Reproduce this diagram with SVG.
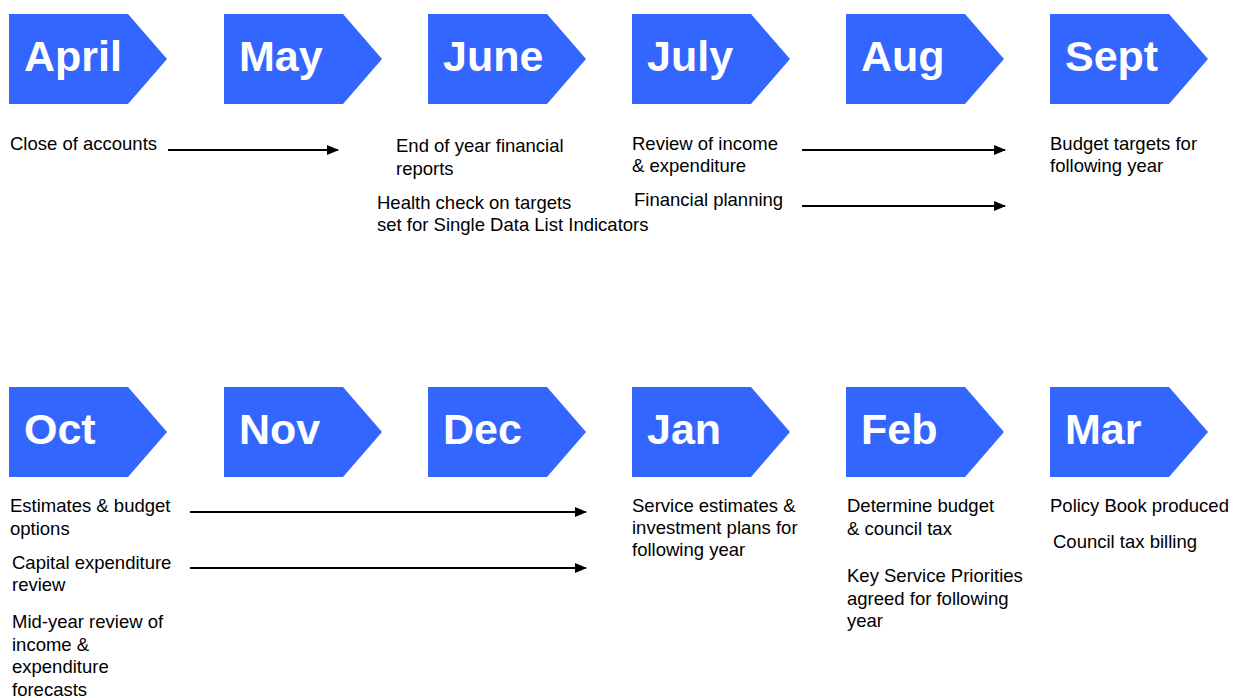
<svg xmlns="http://www.w3.org/2000/svg" width="1244" height="698" viewBox="0 0 1244 698">
  <style>
    .chev { fill: #3366FF; }
    .month { font-family: "Liberation Sans", Arial, sans-serif; font-weight: bold; font-size: 43px; fill: #FFFFFF; }
    .txt { font-family: "Liberation Sans", Arial, sans-serif; font-size: 18.5px; fill: #000000; }
    .arrow { stroke: #000000; stroke-width: 2; fill: none; marker-end: url(#head); }
  </style>
  <defs>
    <marker id="head" markerWidth="6" markerHeight="5" refX="5.5" refY="2.5" orient="auto" markerUnits="strokeWidth">
      <path d="M0,0 L6,2.5 L0,5 Z" fill="#000000"/>
    </marker>
    <path id="chevron" d="M0,0 L119,0 L158,45 L119,90 L0,90 Z"/>
  </defs>
  <rect width="1244" height="698" fill="#FFFFFF"/>

  <!-- First half of the year -->
  <g id="april"><use href="#chevron" class="chev" x="9" y="14"/><text class="month" x="24" y="71">April</text></g>
  <g id="may"><use href="#chevron" class="chev" x="224" y="14"/><text class="month" x="239" y="71">May</text></g>
  <g id="june"><use href="#chevron" class="chev" x="428" y="14"/><text class="month" x="443" y="71">June</text></g>
  <g id="july"><use href="#chevron" class="chev" x="632" y="14"/><text class="month" x="647" y="71">July</text></g>
  <g id="aug"><use href="#chevron" class="chev" x="846" y="14"/><text class="month" x="861" y="71">Aug</text></g>
  <g id="sept"><use href="#chevron" class="chev" x="1050" y="14"/><text class="month" x="1065" y="71">Sept</text></g>

  <!-- Second half of the year -->
  <g id="oct"><use href="#chevron" class="chev" x="9" y="387"/><text class="month" x="24" y="444">Oct</text></g>
  <g id="nov"><use href="#chevron" class="chev" x="224" y="387"/><text class="month" x="239" y="444">Nov</text></g>
  <g id="dec"><use href="#chevron" class="chev" x="428" y="387"/><text class="month" x="443" y="444">Dec</text></g>
  <g id="jan"><use href="#chevron" class="chev" x="632" y="387"/><text class="month" x="647" y="444">Jan</text></g>
  <g id="feb"><use href="#chevron" class="chev" x="846" y="387"/><text class="month" x="861" y="444">Feb</text></g>
  <g id="mar"><use href="#chevron" class="chev" x="1050" y="387"/><text class="month" x="1065" y="444">Mar</text></g>

  <!-- Activities -->
  <g id="close-accounts"><text class="txt" x="10" y="150">Close of accounts</text></g>
  <g id="year-end-reports"><text class="txt" x="396" y="152">End of year financial<tspan x="396" dy="23">reports</tspan></text></g>
  <g id="health-check"><text class="txt" x="377" y="209">Health check on targets<tspan x="377" dy="22">set for Single Data List Indicators</tspan></text></g>
  <g id="review-income"><text class="txt" x="632" y="150">Review of income<tspan x="632" dy="22">&amp; expenditure</tspan></text></g>
  <g id="financial-planning"><text class="txt" x="634" y="206">Financial planning</text></g>
  <g id="budget-targets"><text class="txt" x="1050" y="150">Budget targets for<tspan x="1050" dy="22">following year</tspan></text></g>

  <g id="estimates-options"><text class="txt" x="10" y="512">Estimates &amp; budget<tspan x="10" dy="23">options</tspan></text></g>
  <g id="capital-review"><text class="txt" x="12" y="569">Capital expenditure<tspan x="12" dy="22">review</tspan></text></g>
  <g id="mid-year-review"><text class="txt" x="12" y="628">Mid-year review of<tspan x="12" dy="22.5">income &amp;</tspan><tspan x="12" dy="22.5">expenditure</tspan><tspan x="12" dy="22.5">forecasts</tspan></text></g>
  <g id="service-estimates"><text class="txt" x="632" y="512">Service estimates &amp;<tspan x="632" dy="22">investment plans for</tspan><tspan x="632" dy="22">following year</tspan></text></g>
  <g id="determine-budget"><text class="txt" x="847" y="512">Determine budget<tspan x="847" dy="23">&amp; council tax</tspan></text></g>
  <g id="key-priorities"><text class="txt" x="847" y="582">Key Service Priorities<tspan x="847" dy="23">agreed for following</tspan><tspan x="847" dy="22">year</tspan></text></g>
  <g id="policy-book"><text class="txt" x="1050" y="512">Policy Book produced</text></g>
  <g id="council-tax-billing"><text class="txt" x="1053" y="548">Council tax billing</text></g>

  <!-- Connectors -->
  <g id="connectors">
    <line class="arrow" x1="168" y1="150" x2="338" y2="150"/>
    <line class="arrow" x1="802" y1="150" x2="1005" y2="150"/>
    <line class="arrow" x1="802" y1="206" x2="1005" y2="206"/>
    <line class="arrow" x1="190" y1="512" x2="586" y2="512"/>
    <line class="arrow" x1="190" y1="568" x2="586" y2="568"/>
  </g>
</svg>
